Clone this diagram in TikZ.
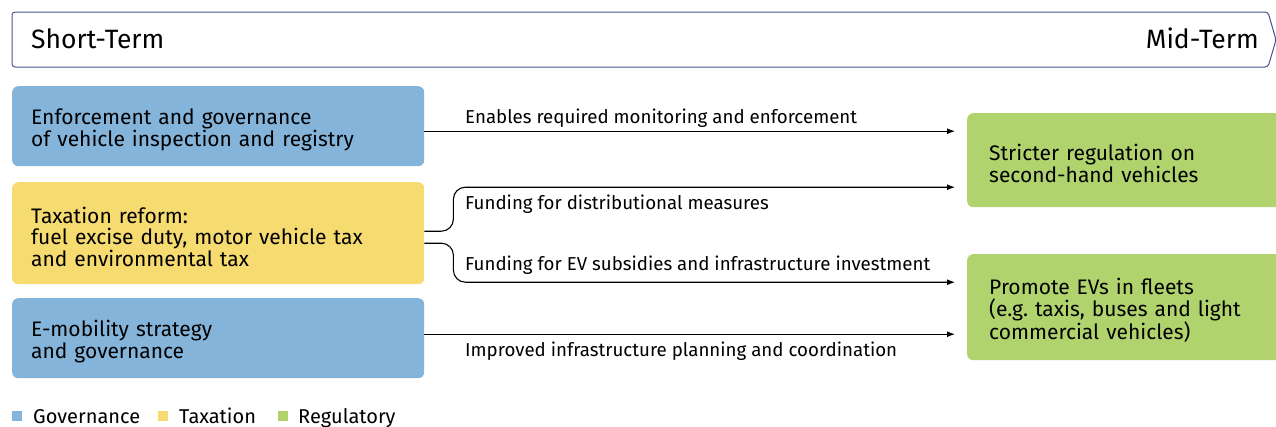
\documentclass[tikz,border=0pt]{standalone}
\usepackage{fontspec}
\setmainfont{Fira Sans}
\usetikzlibrary{arrows.meta,positioning}
\frenchspacing

\definecolor{govblue}{RGB}{133,180,218}
\definecolor{taxyellow}{RGB}{246,219,112}
\definecolor{regreen}{RGB}{177,211,110}
\definecolor{termline}{RGB}{72,86,140}

\tikzset{
  box/.style={rounded corners=6,anchor=north west,align=left,inner ysep=0,
    text height=23pt,font=\fontsize{21}{21.5}\selectfont},
  lbox/.style={box,minimum width=412,text width=374,inner xsep=19},
  rbox/.style={box,minimum width=317,text width=273,inner xsep=22},
  flow/.style={-{Latex[length=8,width=6]},line width=1.1pt,shorten >=12pt},
  lab/.style={anchor=base west,inner sep=0,font=\fontsize{18.7}{20}\selectfont},
  key/.style={anchor=base west,inner sep=0,font=\fontsize{20}{21}\selectfont}
}

\begin{document}
\begin{tikzpicture}[x=1pt,y=-1pt]
\useasboundingbox (0,0) rectangle (1276,426);
% time axis
\draw[termline,line width=1pt,rounded corners=3]
  (1276,40)--(1268,12)--(12,12)--(12,67)--(1268,67)--cycle;
\node[anchor=base west,inner sep=0,font=\fontsize{26.5}{28}\selectfont] (st) at (31,48) {Short-Term};
\node[anchor=base east,inner sep=0,font=\fontsize{26.5}{28}\selectfont] (mt) at (1259,48) {Mid-Term};

% short-term measures
\node[lbox,fill=govblue,minimum height=80] (enf) at (12,86)
  {Enforcement and governance\\of vehicle inspection and registry};
\node[lbox,fill=taxyellow,minimum height=102] (tax) at (12,182)
  {Taxation reform:\\fuel excise duty, motor vehicle tax\\and environmental tax};
\node[lbox,fill=govblue,minimum height=80] (mob) at (12,298)
  {E-mobility strategy\\and governance};

% mid-term measures
\node[rbox,fill=regreen,minimum height=94] (reg) at (967,113)
  {Stricter regulation on\\second-hand vehicles};
\node[rbox,fill=regreen,minimum height=106] (fleet) at (967,254)
  {Promote EVs in fleets\\(e.g. taxis, buses and light\\commercial vehicles)};

% links
\draw[flow] ([yshift=-5pt]enf.east)--([yshift=29pt]reg.west);
\draw[flow,rounded corners=12] ([yshift=2pt]tax.east)--++(29,0)|-([yshift=-27pt]reg.west);
\draw[flow,rounded corners=12] ([yshift=-10pt]tax.east)--++(29,0)|-([yshift=25pt]fleet.west);
\draw[flow] ([yshift=4pt]mob.east)--([yshift=-27pt]fleet.west);

\node[lab] (l1) at (465,123) {Enables required monitoring and enforcement};
\node[lab] (l2) at (465,209) {Funding for distributional measures};
\node[lab] (l3) at (465,270) {Funding for EV subsidies and infrastructure investment};
\node[lab] (l4) at (465,356) {Improved infrastructure planning and coordination};

% legend
\fill[govblue] (12,411) rectangle (22,421);
\node[key] (k1) at (33,423) {Governance};
\fill[taxyellow] (158,411) rectangle (168,421);
\node[key] (k2) at (179,423) {Taxation};
\fill[regreen] (278,411) rectangle (288,421);
\node[key] (k3) at (298,423) {Regulatory};
\end{tikzpicture}
\end{document}
